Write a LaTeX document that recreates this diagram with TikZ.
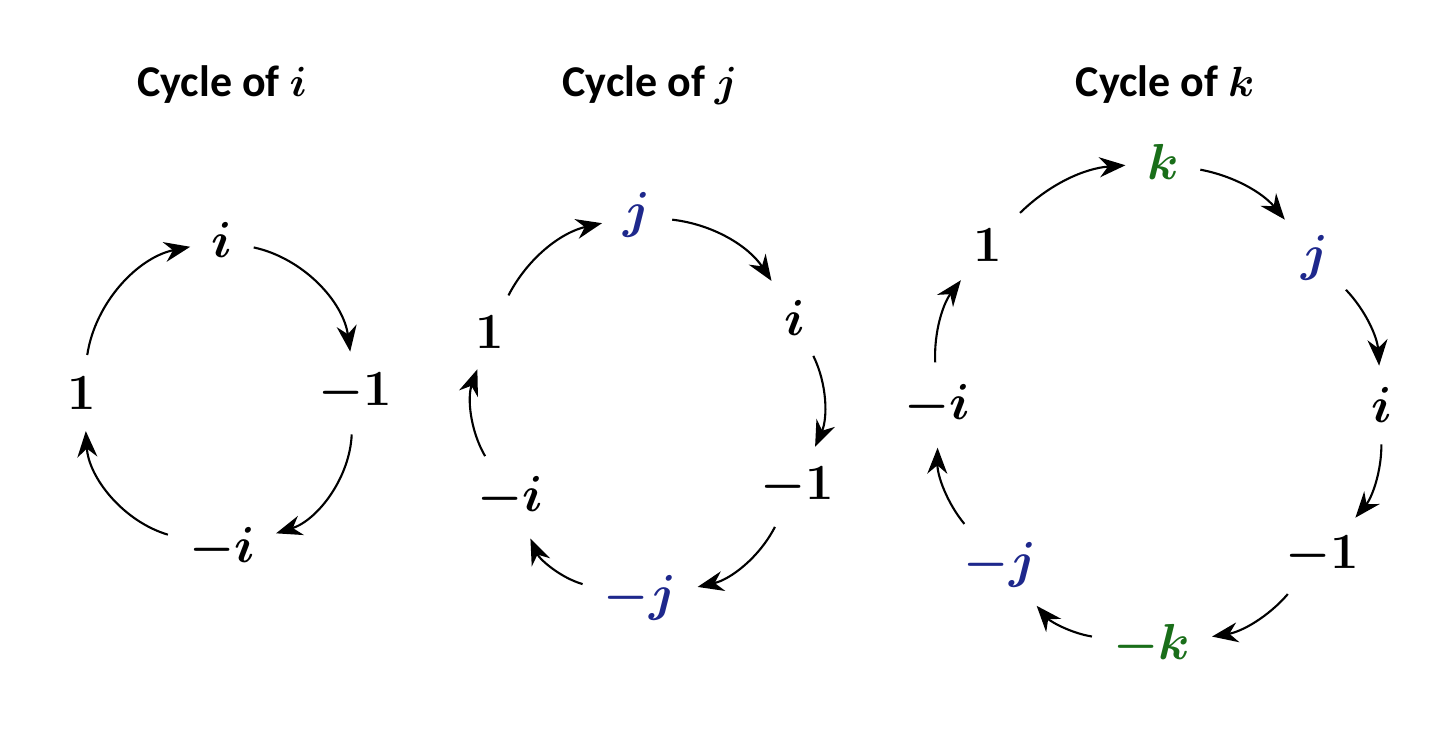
\documentclass[tikz,border=0pt]{standalone}
\usepackage{fontspec}
\setsansfont{Carlito}
\usetikzlibrary{arrows.meta}
\definecolor{qblue}{RGB}{30,40,140}
\definecolor{qgreen}{RGB}{25,110,25}
\begin{document}
\begin{tikzpicture}[x=0.01cm,y=-0.01cm,
  title/.style={font=\sffamily\bfseries\fontsize{12.5}{15}\selectfont\boldmath},
  elem/.style={font=\fontsize{14}{16}\selectfont\boldmath,inner sep=2pt},
  cycarrow/.style={-{Stealth[length=2.6mm,width=2mm]},semithick,shorten <=4pt,shorten >=4pt}]
\useasboundingbox (0,0) rectangle (1448,740);

%titles
  \node[title] (ti) at (222,85) {Cycle of $i$};
  \node[title] (tj) at (650,85) {Cycle of $j$};
  \node[title] (tk) at (1165,85) {Cycle of $k$};

%cycle of i
  \foreach \n/\x/\y/\t in {a1/222/240/i, a2/355/393/-1, a3/222/548/-i, a4/82/393/1}
    \node[elem] (\n) at (\x,\y) {$\t$};
  \foreach \a/\b in {a4/a1, a1/a2, a2/a3, a3/a4}
    \draw[cycarrow] (\a) to[bend left=35] (\b);

%cycle of j
  \foreach \n/\x/\y/\t in {b1/637/215/\color{qblue}j, b2/795/318/i, b3/797/487/-1,
      b4/640/598/\color{qblue}-j, b5/510/497/-i, b6/490/332/1}
    \node[elem] (\n) at (\x,\y) {$\t$};
  \foreach \a/\b in {b6/b1, b1/b2, b2/b3, b3/b4, b4/b5, b5/b6}
    \draw[cycarrow] (\a) to[bend left=25] (\b);

%cycle of k
  \foreach \n/\x/\y/\t in {c1/1163/162/\color{qgreen}k, c2/1315/258/\color{qblue}j, c3/1382/405/i,
      c4/1322/556/-1, c5/1152/645/\color{qgreen}-k, c6/1000/565/\color{qblue}-j,
      c7/937/405/-i, c8/988/245/1}
    \node[elem] (\n) at (\x,\y) {$\t$};
  \foreach \a/\b in {c8/c1, c1/c2, c2/c3, c3/c4, c4/c5, c5/c6, c6/c7, c7/c8}
    \draw[cycarrow] (\a) to[bend left=20] (\b);

\end{tikzpicture}
\end{document}
